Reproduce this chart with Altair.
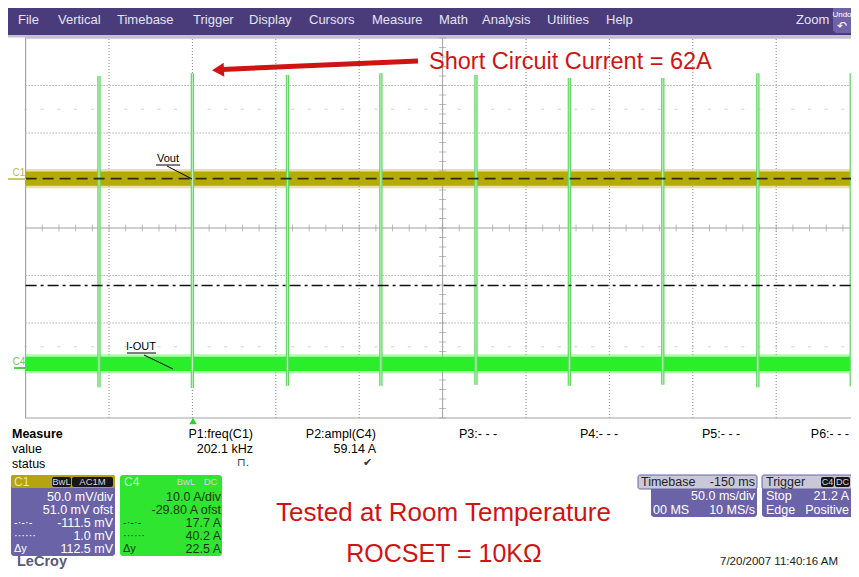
import altair as alt
import pandas as pd

FONT = "Liberation Sans"
PAGE_MARGIN = 8            # vega-embed page margin; layout below is in screen pixels
CANVAS_W, CANVAS_H = 843, 561

# ---------------- waveform values ----------------
TIME_DOMAIN_MS = [-100, 400]      # 50 ms/div, trigger (t = 0) at -150 ms from centre
CENTER_TIME_MS = [150]
GRID_TIMES_MS = [-50, 0, 50, 100, 200, 250, 300, 350]
MINOR_TIME_MS = 10
DIV_DOMAIN = [-4, 4]
GRID_DIVS = [-3, -2, -1, 1, 2, 3]
MINOR_DIV = 0.2
DOT_ROW_DIVS = [2.5, -2.5]

C4_A_PER_DIV = 10.0
C4_OFFSET_A = -29.80
C1_MV_PER_DIV = 50.0
C1_OFFSET_MV = 51.0

SPIKE_TIMES_MS = [-56, 0, 57, 113, 170, 226, 282, 339, 395]
SPIKE_PEAK_A = [61.8, 62.4, 62.0, 62.4, 62.0, 61.4, 61.4, 62.4, 62.4]
SPIKE_LOW_A = [-3.7, -3.9, -3.4, -3.4, -3.2, -3.4, -3.2, -3.7, -3.5]

IOUT_LEVEL_A = 1.2
IOUT_SPREAD_A = 1.5
VOUT_LEVEL_MV = 1.0
VOUT_SPREAD_MV = 7.5

C4_CURSORS_A = [17.7, 40.2]

# ---------------- panel texts ----------------
MENU_LABELS = ["File", "Vertical", "Timebase", "Trigger", "Display", "Cursors",
               "Measure", "Math", "Analysis", "Utilities", "Help"]
MEAS_NAMES = ["P1:freq(C1)", "P2:ampl(C4)"]
MEAS_VALUES = ["202.1 kHz", "59.14 A"]
MEAS_STATUS = ["\u2293.", "\u2714"]
MEAS_EMPTY = ["P3:- - -", "P4:- - -", "P5:- - -"]
MEAS_LAST = "P6:- - -"
C1_INFO = ["50.0 mV/div", "51.0 mV ofst", "-111.5 mV", "1.0 mV", "112.5 mV"]
C4_INFO = ["10.0 A/div", "-29.80 A ofst", "17.7 A", "40.2 A", "22.5 A"]
CURSOR_KEYS = ["-\u00b7-\u00b7-", "\u00b7\u00b7\u00b7\u00b7\u00b7\u00b7", "\u0394y"]

# ---------------- layout (screen pixels) ----------------
GRID_LEFT, GRID_RIGHT = 25.6, 859.6
GRID_TOP, GRID_BOTTOM = 38, 418
RIGHT_EDGE = PAGE_MARGIN + CANVAS_W
MENU_X = [18, 58, 117, 193, 249, 309, 372, 439, 482, 547, 606]
MEAS_RIGHT = [253, 376]
MEAS_EMPTY_X = [459, 580, 702]
INFO_ROWS_Y = [497, 510, 523, 536, 549]
RED = "#cf1414"


def px(v):
    return v - PAGE_MARGIN


def ui_rect(rows, **mark):
    df = pd.DataFrame(rows, columns=["x0", "x1", "y0", "y1"]) - PAGE_MARGIN
    return alt.Chart(df).mark_rect(**mark).encode(
        x=alt.X("x0:Q", scale=None, axis=None), x2="x1:Q",
        y=alt.Y("y0:Q", scale=None, axis=None), y2="y1:Q")


def ui_line(rows, **mark):
    df = pd.DataFrame(rows, columns=["x0", "y0", "x1", "y1"]) - PAGE_MARGIN
    return alt.Chart(df).mark_rule(**mark).encode(
        x=alt.X("x0:Q", scale=None, axis=None), x2="x1:Q",
        y=alt.Y("y0:Q", scale=None, axis=None), y2="y1:Q")


def ui_text(rows, **mark):
    df = pd.DataFrame(rows, columns=["x", "y", "label"])
    df["x"] = df["x"] - PAGE_MARGIN
    df["y"] = df["y"] - PAGE_MARGIN
    style = dict(align="left", baseline="middle", font=FONT, fontSize=12, color="#000000")
    style.update(mark)
    return alt.Chart(df).mark_text(**style).encode(
        x=alt.X("x:Q", scale=None, axis=None),
        y=alt.Y("y:Q", scale=None, axis=None), text="label:N")


# ---------------- scales ----------------
X_RANGE = [px(GRID_LEFT), px(GRID_RIGHT)]
Y_RANGE = [px(GRID_BOTTOM), px(GRID_TOP)]
xs = alt.Scale(domain=TIME_DOMAIN_MS, range=X_RANGE, zero=False, nice=False)
ys_div = alt.Scale(domain=DIV_DOMAIN, range=Y_RANGE, zero=False, nice=False)
C4_DOMAIN = [-C4_OFFSET_A + d * C4_A_PER_DIV for d in DIV_DOMAIN]
C1_DOMAIN = [-C1_OFFSET_MV + d * C1_MV_PER_DIV for d in DIV_DOMAIN]
ys_a = alt.Scale(domain=C4_DOMAIN, range=Y_RANGE, zero=False, nice=False)
ys_mv = alt.Scale(domain=C1_DOMAIN, range=Y_RANGE, zero=False, nice=False)


def tx(f):
    return alt.X(f, type="quantitative", scale=xs, axis=None)


def ty(f, s):
    return alt.Y(f, type="quantitative", scale=s, axis=None)


layers = []

# ---------------- menu bar ----------------
layers.append(ui_rect([(0, 870, 0, 35)], color="#4a3c7b"))
layers.append(ui_rect([(0, 870, 35, 37.5)], color="#c4c4cc"))
layers.append(ui_text(list(zip(MENU_X, [20] * len(MENU_X), MENU_LABELS)),
                      fontSize=13, color="#e4e4ee"))
layers.append(ui_text([(796, 20, "Zoom")], fontSize=13, color="#e4e4ee"))
layers.append(ui_rect([(833, 875, 3, 33)], color="#7062a8", cornerRadius=4))
layers.append(ui_text([(842, 15, "Undo")], fontSize=8, color="#ffffff", align="center"))
layers.append(ui_text([(842, 26, "\u21b6")], fontSize=12, color="#ffffff", align="center"))

# ---------------- graticule ----------------
vgrid = pd.DataFrame({"t": GRID_TIMES_MS, "lo": DIV_DOMAIN[0], "hi": DIV_DOMAIN[1]})
hgrid = pd.DataFrame({"d": GRID_DIVS, "t0": TIME_DOMAIN_MS[0], "t1": TIME_DOMAIN_MS[1]})
layers.append(alt.Chart(vgrid).mark_rule(color="#8a8a8a", strokeWidth=1, strokeDash=[1, 2]).encode(
    x=tx("t"), y=ty("lo", ys_div), y2="hi"))
layers.append(alt.Chart(hgrid).mark_rule(color="#8a8a8a", strokeWidth=1, strokeDash=[1, 2]).encode(
    x=tx("t0"), x2="t1", y=ty("d", ys_div)))
border = pd.DataFrame({"t0": [TIME_DOMAIN_MS[0]], "t1": [TIME_DOMAIN_MS[1]],
                       "lo": [DIV_DOMAIN[0]], "hi": [DIV_DOMAIN[1]]})
layers.append(alt.Chart(border).mark_rect(fillOpacity=0, stroke="#a4a4a4", strokeWidth=1.2).encode(
    x=tx("t0"), x2="t1", y=ty("lo", ys_div), y2="hi"))
vcent = pd.DataFrame({"t": CENTER_TIME_MS, "lo": DIV_DOMAIN[0], "hi": DIV_DOMAIN[1]})
hcent = pd.DataFrame({"d": [0], "t0": TIME_DOMAIN_MS[0], "t1": TIME_DOMAIN_MS[1]})
layers.append(alt.Chart(vcent).mark_rule(color="#a0a0a0", strokeWidth=1).encode(
    x=tx("t"), y=ty("lo", ys_div), y2="hi"))
layers.append(alt.Chart(hcent).mark_rule(color="#a0a0a0", strokeWidth=1).encode(
    x=tx("t0"), x2="t1", y=ty("d", ys_div)))
n_t = int((TIME_DOMAIN_MS[1] - TIME_DOMAIN_MS[0]) / MINOR_TIME_MS) + 1
minor_t = [TIME_DOMAIN_MS[0] + MINOR_TIME_MS * i for i in range(n_t)]
n_d = int(round((DIV_DOMAIN[1] - DIV_DOMAIN[0]) / MINOR_DIV)) + 1
minor_d = [round(DIV_DOMAIN[0] + MINOR_DIV * i, 3) for i in range(n_d)]
layers.append(alt.Chart(pd.DataFrame({"t": minor_t, "d": 0})).mark_tick(
    orient="vertical", size=7, thickness=1, color="#a0a0a0").encode(x=tx("t"), y=ty("d", ys_div)))
layers.append(alt.Chart(pd.DataFrame({"t": CENTER_TIME_MS[0], "d": minor_d})).mark_tick(
    orient="horizontal", size=7, thickness=1, color="#a0a0a0").encode(x=tx("t"), y=ty("d", ys_div)))
dots = pd.DataFrame([(t, d) for d in DOT_ROW_DIVS for t in minor_t], columns=["t", "d"])
layers.append(alt.Chart(dots).mark_tick(
    orient="horizontal", size=3, thickness=1, color="#bdbdbd").encode(x=tx("t"), y=ty("d", ys_div)))

# ---------------- traces ----------------
vout = pd.DataFrame({"t0": [TIME_DOMAIN_MS[0]], "t1": [TIME_DOMAIN_MS[1]],
                     "lo": [VOUT_LEVEL_MV - VOUT_SPREAD_MV], "hi": [VOUT_LEVEL_MV + VOUT_SPREAD_MV],
                     "flo": [VOUT_LEVEL_MV - 1.35 * VOUT_SPREAD_MV], "fhi": [VOUT_LEVEL_MV + 1.35 * VOUT_SPREAD_MV]})
layers.append(alt.Chart(vout).mark_rect(color="#c9c23a", opacity=0.45).encode(
    x=tx("t0"), x2="t1", y=ty("flo", ys_mv), y2="fhi"))
layers.append(alt.Chart(vout).mark_rect(color="#b5ab06").encode(
    x=tx("t0"), x2="t1", y=ty("lo", ys_mv), y2="hi"))

iout = pd.DataFrame({"t0": [TIME_DOMAIN_MS[0]], "t1": [TIME_DOMAIN_MS[1]],
                     "lo": [IOUT_LEVEL_A - IOUT_SPREAD_A], "hi": [IOUT_LEVEL_A + IOUT_SPREAD_A],
                     "flo": [IOUT_LEVEL_A - 1.35 * IOUT_SPREAD_A], "fhi": [IOUT_LEVEL_A + 1.35 * IOUT_SPREAD_A]})
layers.append(alt.Chart(iout).mark_rect(color="#5ef05e", opacity=0.45).encode(
    x=tx("t0"), x2="t1", y=ty("flo", ys_a), y2="fhi"))
layers.append(alt.Chart(iout).mark_rect(color="#2bee2b").encode(
    x=tx("t0"), x2="t1", y=ty("lo", ys_a), y2="hi"))

spikes = pd.DataFrame({"t": SPIKE_TIMES_MS, "peak": SPIKE_PEAK_A, "low": SPIKE_LOW_A})
layers.append(alt.Chart(spikes).mark_rule(color="#62d862", strokeWidth=3.4).encode(
    x=tx("t"), y=ty("low", ys_a), y2="peak"))
layers.append(alt.Chart(spikes).mark_rule(color="#c4f3c4", strokeWidth=1).encode(
    x=tx("t"), y=ty("low", ys_a), y2="peak"))

cur = pd.DataFrame({"a": C4_CURSORS_A, "t0": TIME_DOMAIN_MS[0], "t1": TIME_DOMAIN_MS[1]})
layers.append(alt.Chart(cur.iloc[[0]]).mark_rule(color="#111111", strokeWidth=1.6,
                                                 strokeDash=[11, 4, 3, 4]).encode(
    x=tx("t0"), x2="t1", y=ty("a", ys_a)))
layers.append(alt.Chart(cur.iloc[[1]]).mark_rule(color="#2a2a18", strokeWidth=1.6,
                                                 strokeDash=[11, 6]).encode(
    x=tx("t0"), x2="t1", y=ty("a", ys_a)))

# ---------------- trace labels & markers ----------------
layers.append(ui_text([(19, 173, "C1")], fontSize=10, color="#bdb55a", align="center"))
layers.append(ui_line([(0, 179, 26, 179)], color="#cfc868", strokeWidth=2))
layers.append(ui_text([(19, 362, "C4")], fontSize=10, color="#66cc66", align="center"))
layers.append(ui_line([(14, 368, 26, 368)], color="#55cc55", strokeWidth=2))
layers.append(ui_text([(168, 159, "Vout")], fontSize=11, align="center"))
layers.append(ui_line([(156, 165, 180, 165), (167, 166, 192, 179)], color="#000000", strokeWidth=1))
layers.append(ui_text([(141, 347, "I-OUT")], fontSize=11, align="center"))
layers.append(ui_line([(127, 353, 156, 353), (144, 355, 173, 369)], color="#000000", strokeWidth=1))

trig = pd.DataFrame({"x": [px(193)], "y": [px(421)]})
layers.append(alt.Chart(trig).mark_point(shape="triangle-up", filled=True, size=55,
                                         color="#2fcf2f", opacity=1).encode(
    x=alt.X("x:Q", scale=None, axis=None), y=alt.Y("y:Q", scale=None, axis=None)))

# ---------------- red annotations ----------------
layers.append(ui_line([(418, 61, 222, 69.5)], color=RED, strokeWidth=5))
head = pd.DataFrame({"x": [px(218)], "y": [px(70)]})
layers.append(alt.Chart(head).mark_point(shape="triangle-left", filled=True, size=190,
                                         color=RED, opacity=1, angle=357.5).encode(
    x=alt.X("x:Q", scale=None, axis=None), y=alt.Y("y:Q", scale=None, axis=None)))
layers.append(ui_text([(429, 62, "Short Circuit Current = 62A")], fontSize=23.5, color=RED))
layers.append(ui_text([(443.5, 513, "Tested at Room Temperature")], fontSize=26, color=RED,
                      align="center"))
layers.append(ui_text([(444, 554, "ROCSET = 10K\u03a9")], fontSize=25, color=RED, align="center"))

# ---------------- measure table ----------------
layers.append(ui_text([(12, 434, "Measure")], fontSize=12.5, fontWeight="bold"))
layers.append(ui_text([(12, 449, "value"), (12, 464, "status")], fontSize=12.5))
layers.append(ui_text(list(zip(MEAS_RIGHT, [434] * 2, MEAS_NAMES)), fontSize=12.5, align="right"))
layers.append(ui_text(list(zip(MEAS_RIGHT, [449] * 2, MEAS_VALUES)), fontSize=12.5, align="right"))
layers.append(ui_text(list(zip([r - 4 for r in MEAS_RIGHT], [463] * 2, MEAS_STATUS)),
                      fontSize=11, align="right", color="#333333"))
layers.append(ui_text(list(zip(MEAS_EMPTY_X, [434] * 3, MEAS_EMPTY)), fontSize=12.5))
layers.append(ui_text([(RIGHT_EDGE - 2, 434, MEAS_LAST)], fontSize=12.5, align="right"))

# ---------------- channel boxes ----------------
layers.append(ui_rect([(11, 115, 475, 556)], color="#6b63a8", cornerRadius=3))
layers.append(ui_rect([(11, 115, 475, 488)], color="#b3a410", cornerRadius=2))
layers.append(ui_rect([(52, 71, 477, 487), (72, 113, 477, 487),
                       (173, 199, 477, 487), (200, 221, 477, 487)], color="#161616", cornerRadius=2))
layers.append(ui_rect([(120, 222, 475, 556)], color="#2fe52f", cornerRadius=3))
layers.append(ui_text([(14, 482, "C1")], fontSize=12, color="#ece4a8"))
layers.append(ui_text([(124, 482, "C4")], fontSize=12, color="#c9f3c9"))
layers.append(ui_text([(61.5, 482, "BwL"), (92.5, 482, "AC1M"), (186, 482, "BwL"), (210.5, 482, "DC")],
                      fontSize=9.5, color="#d6d6d6", align="center"))
layers.append(ui_text(list(zip([113] * 5, INFO_ROWS_Y, C1_INFO)), fontSize=12.5, color="#ffffff",
                      align="right"))
layers.append(ui_text(list(zip([14] * 3, INFO_ROWS_Y[2:], CURSOR_KEYS)), fontSize=11, color="#ffffff"))
layers.append(ui_text(list(zip([221] * 5, INFO_ROWS_Y, C4_INFO)), fontSize=12.5, color="#143814",
                      align="right"))
layers.append(ui_text(list(zip([123] * 3, INFO_ROWS_Y[2:], CURSOR_KEYS)), fontSize=11, color="#143814"))

# ---------------- timebase / trigger boxes ----------------
layers.append(ui_rect([(651, 757, 475, 517), (762, 875, 475, 517)], color="#6b63a8", cornerRadius=3))
layers.append(ui_rect([(638, 757, 475, 489), (762, 875, 475, 489)], color="#c8c8d6",
                      stroke="#6b63a8", strokeWidth=1, cornerRadius=2))
layers.append(ui_rect([(821, 834, 477, 487), (835, 850, 477, 487)], color="#161616", cornerRadius=2))
layers.append(ui_text([(641, 482, "Timebase"), (766, 482, "Trigger")], fontSize=12.5, color="#1e1e2a"))
layers.append(ui_text([(755, 482, "-150 ms")], fontSize=12.5, color="#1e1e2a", align="right"))
layers.append(ui_text([(827.5, 482, "C4"), (842.5, 482, "DC")], fontSize=9, color="#d6d6d6",
                      align="center"))
layers.append(ui_text([(755, 496, "50.0 ms/div"), (755, 510, "10 MS/s"),
                       (RIGHT_EDGE - 2, 496, "21.2 A"), (RIGHT_EDGE - 2, 510, "Positive")],
                      fontSize=12.5, color="#ffffff", align="right"))
layers.append(ui_text([(653, 510, "00 MS"), (766, 496, "Stop"), (766, 510, "Edge")],
                      fontSize=12.5, color="#ffffff"))

# ---------------- footer ----------------
layers.append(ui_text([(17, 562, "LeCroy")], fontSize=14.5, fontWeight="bold", color="#5a5a80"))
layers.append(ui_text([(720, 562, "7/20/2007 11:40:16 AM")], fontSize=11.5, color="#222222"))

chart = alt.layer(*layers).resolve_scale(x="independent", y="independent").properties(
    width=CANVAS_W, height=CANVAS_H, padding=0, autosize="none", background="#ffffff"
).configure_view(stroke=None)

chart.save("out.html", embed_options={"renderer": "svg", "actions": False})
